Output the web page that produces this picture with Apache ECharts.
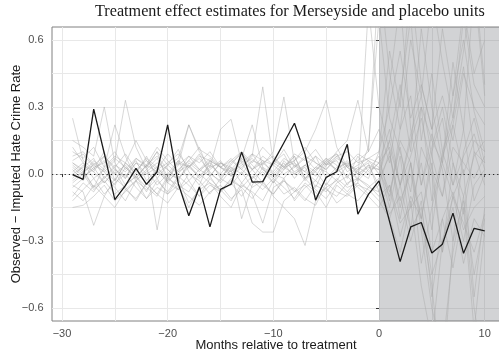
<!DOCTYPE html>
<html>
<head>
<meta charset="utf-8">
<script src="https://cdn.jsdelivr.net/npm/echarts@6/dist/echarts.min.js"></script>
<style>html,body{margin:0;padding:0;background:#fff;}#chart{width:499px;height:351px;}</style>
</head>
<body>
<div id="chart"></div>
<script>
// ---- data ----
const months = [-29,-28,-27,-26,-25,-24,-23,-22,-21,-20,-19,-18,-17,-16,-15,-14,-13,-12,-11,-10,-9,-8,-7,-6,-5,-4,-3,-2,-1,0,1,2,3,4,5,6,7,8,9,10];

const merseyside = [-0.003,-0.024,0.29,0.093,-0.115,-0.052,0.025,-0.046,0.01,0.22,-0.042,-0.187,-0.058,-0.237,-0.069,-0.046,0.098,-0.036,-0.034,0.053,0.14,0.227,0.088,-0.117,-0.015,0.01,0.133,-0.18,-0.091,-0.031,-0.213,-0.392,-0.237,-0.217,-0.354,-0.314,-0.175,-0.355,-0.243,-0.255];

const placebo01 = [0.25,0.06,0.02,0.10,-0.03,0.05,0.00,0.08,-0.02,0.04,0.11,0.01,-0.05,0.06,0.03,-0.01,0.07,0.02,-0.04,0.05,0.09,0.00,0.03,-0.06,0.04,0.06,-0.02,0.08,0.01,0.05,0.12,-0.05,0.18,0.35,0.08,-0.10,0.22,0.48,0.10,0.05];
const placebo02 = [0.15,0.12,0.08,0.30,0.05,-0.02,0.07,0.03,0.10,-0.04,0.02,0.06,0.12,0.00,-0.03,0.05,0.09,0.04,-0.01,0.06,0.03,0.08,-0.02,0.01,0.07,0.04,-0.05,0.02,0.05,-0.08,0.40,0.78,0.20,-0.05,0.12,0.30,0.05,-0.10,0.08,0.15];
const placebo03 = [-0.15,-0.14,-0.10,-0.05,-0.12,-0.08,-0.03,-0.11,-0.06,-0.09,-0.02,-0.13,-0.07,-0.04,-0.10,-0.15,-0.05,-0.08,-0.12,-0.03,-0.09,-0.06,-0.11,-0.14,-0.04,-0.08,-0.10,-0.05,-0.07,-0.12,-0.20,-0.05,-0.25,-0.15,-0.45,-0.30,-0.10,-0.22,-0.35,-0.18];
const placebo04 = [0.05,0.02,-0.06,0.03,0.22,0.08,-0.02,0.04,0.01,-0.03,0.06,0.03,0.09,-0.01,0.05,0.02,0.07,0.22,0.03,-0.04,0.06,0.01,0.04,0.08,-0.02,0.03,0.05,0.00,0.12,0.70,0.25,0.10,-0.08,0.30,0.15,0.05,0.35,0.60,0.28,0.10];
const placebo05 = [0.08,0.10,0.04,0.01,0.06,0.33,0.12,0.02,0.07,-0.01,0.05,0.03,0.08,0.06,-0.02,0.04,0.10,0.02,0.05,0.01,0.07,0.04,-0.03,0.02,0.06,0.09,0.03,0.00,0.04,0.02,-0.10,0.15,0.05,-0.20,0.10,0.25,-0.05,0.08,0.18,0.02];
const placebo06 = [-0.05,-0.08,-0.23,-0.10,-0.02,-0.06,-0.12,-0.04,-0.09,-0.01,-0.07,-0.03,-0.10,-0.05,-0.08,-0.02,-0.06,-0.11,-0.04,-0.09,-0.03,-0.07,-0.12,-0.05,-0.08,-0.02,-0.06,-0.04,-0.09,-0.05,-0.18,-0.10,-0.30,-0.12,-0.55,-0.20,-0.08,-0.25,-0.15,-0.10];
const placebo07 = [0.02,-0.03,0.05,0.01,-0.05,0.03,-0.02,0.04,-0.25,0.00,0.06,-0.03,0.02,0.05,-0.01,0.03,-0.04,0.02,0.06,0.00,-0.02,0.04,0.01,-0.03,0.05,0.02,-0.01,0.03,0.00,0.05,-0.08,0.12,-0.15,0.05,-0.25,0.10,-0.05,0.20,-0.12,0.00];
const placebo08 = [0.10,0.07,0.12,0.03,0.08,0.05,0.15,0.06,0.02,0.09,0.04,0.22,0.11,0.08,0.03,0.06,0.10,0.05,0.12,0.07,0.03,0.09,0.06,0.11,0.04,0.08,0.10,0.05,0.07,0.10,0.30,0.55,0.25,0.40,0.20,0.35,0.15,0.45,0.30,0.22];
const placebo09 = [-0.02,0.04,0.01,-0.04,0.02,-0.01,0.05,0.00,0.03,-0.03,0.01,0.04,-0.02,0.02,0.06,-0.01,0.03,0.08,0.39,0.05,0.02,0.08,-0.02,0.03,0.01,-0.03,0.04,0.02,0.06,0.00,0.15,-0.05,0.08,0.25,0.02,-0.10,0.12,0.05,-0.02,0.08];
const placebo10 = [0.04,0.00,0.06,0.02,-0.03,0.05,0.01,0.07,0.03,-0.02,0.04,0.08,0.02,-0.01,0.05,0.03,0.00,0.06,0.04,0.10,0.345,0.05,-0.02,0.03,0.07,0.01,0.04,-0.03,0.02,0.08,-0.12,0.20,0.35,-0.05,0.18,0.02,-0.30,0.10,0.25,0.05];
const placebo11 = [-0.06,-0.02,0.03,-0.04,0.01,-0.07,-0.03,0.02,-0.05,0.00,-0.02,0.04,-0.01,0.03,0.20,0.245,0.05,-0.02,0.01,-0.04,0.02,0.06,0.10,0.20,0.33,0.12,0.03,-0.02,0.04,-0.05,0.10,-0.20,0.05,-0.40,-0.15,0.05,-0.10,-0.30,-0.05,0.02];
const placebo12 = [0.01,0.05,-0.02,0.02,0.07,0.03,-0.01,0.04,0.08,0.02,-0.03,0.05,0.01,0.06,0.03,0.00,0.04,0.07,0.02,-0.02,0.03,0.05,0.01,0.08,0.04,0.10,0.15,0.33,0.10,0.90,0.45,0.20,0.60,0.35,0.80,0.50,0.25,0.70,0.40,0.30];
const placebo13 = [-0.08,-0.12,-0.05,-0.10,-0.15,-0.07,-0.11,-0.04,-0.09,-0.13,-0.06,-0.10,-0.14,-0.08,-0.05,-0.11,-0.07,-0.22,-0.26,-0.26,-0.12,-0.08,-0.05,-0.10,-0.06,-0.13,-0.09,-0.04,0.75,0.30,0.10,-0.15,0.05,-0.25,-0.60,-0.80,-0.35,-0.10,-0.45,-0.20];
const placebo14 = [-0.03,0.01,-0.06,-0.02,0.03,-0.05,-0.01,-0.08,0.02,-0.04,-0.07,0.00,-0.03,-0.09,-0.02,-0.05,0.01,-0.06,-0.03,-0.10,-0.15,-0.20,-0.32,-0.12,-0.06,-0.03,-0.08,-0.02,-0.05,-0.10,-0.05,-0.22,-0.15,-0.08,-0.35,-0.20,-0.42,-0.15,-0.70,-0.25];
const placebo15 = [0.03,-0.01,0.02,0.06,0.00,0.04,-0.03,0.01,0.05,0.02,-0.02,0.03,0.07,0.01,-0.04,0.02,-0.20,-0.05,0.03,0.00,0.05,-0.02,0.04,0.01,-0.05,0.02,0.06,0.00,0.03,0.02,0.15,0.40,0.10,0.65,0.30,0.05,0.50,0.20,0.85,0.35];
const placebo16 = [0.06,0.09,0.03,0.05,0.10,0.02,0.07,0.04,0.12,0.06,0.01,0.08,0.05,0.10,0.03,0.07,0.02,0.09,0.06,0.04,0.11,0.03,0.08,0.05,0.02,0.07,0.04,0.09,0.06,0.03,-0.15,0.08,-0.25,0.12,0.00,-0.35,0.05,-0.18,0.10,-0.05];
const placebo17 = [-0.10,-0.04,-0.08,-0.01,-0.06,-0.12,-0.03,-0.07,-0.02,-0.09,-0.05,-0.15,-0.06,-0.01,-0.08,-0.04,-0.10,-0.03,-0.07,-0.02,-0.06,-0.11,-0.04,-0.08,-0.15,-0.05,-0.09,-0.12,-0.06,-0.08,-0.20,-0.35,-0.12,-0.50,-0.75,-0.30,-0.15,-0.40,-0.20,-0.28];
const placebo18 = [0.00,0.03,0.07,-0.02,0.04,0.01,0.06,-0.03,0.02,0.05,0.09,0.03,-0.01,0.04,0.00,0.06,0.02,-0.02,0.05,0.08,0.03,0.00,0.04,-0.01,0.06,0.02,0.05,0.01,-0.02,0.10,0.55,0.30,0.85,0.40,0.20,0.65,0.35,0.75,0.45,0.60];
const placebo19 = [0.12,0.05,0.01,0.08,0.03,0.09,0.02,0.06,0.00,0.04,0.07,0.22,0.10,0.03,0.05,0.01,0.06,0.02,0.08,0.04,0.00,0.03,0.07,0.02,0.05,0.09,0.01,0.04,0.07,0.05,0.20,-0.05,0.15,0.30,-0.12,0.08,0.22,0.00,0.15,0.10];
const placebo20 = [-0.12,-0.07,-0.02,-0.09,-0.04,0.00,-0.06,-0.11,-0.03,-0.08,-0.01,-0.05,-0.10,-0.02,-0.07,-0.12,-0.04,-0.09,-0.22,-0.06,-0.03,-0.08,-0.02,-0.07,-0.11,-0.04,-0.01,-0.06,-0.10,-0.15,-0.05,-0.28,-0.10,-0.20,-0.50,-0.95,-0.30,-0.12,-0.60,-0.90];
const placebo21 = [0.05,0.01,0.04,0.08,0.02,-0.02,0.05,0.03,0.10,0.04,0.00,0.06,0.02,0.07,0.03,0.01,0.05,0.09,0.02,-0.01,0.04,0.06,0.12,0.05,0.02,0.08,0.03,0.06,0.10,0.20,0.05,0.35,0.70,0.15,0.45,0.10,0.25,0.55,0.90,0.40];
const placebo22 = [-0.04,0.00,-0.07,-0.03,-0.09,-0.05,-0.01,-0.06,-0.10,-0.02,-0.05,-0.08,0.00,-0.04,-0.07,-0.03,-0.06,-0.01,-0.05,-0.09,-0.02,-0.12,-0.06,-0.03,-0.07,-0.10,-0.04,-0.02,-0.06,-0.02,0.08,-0.12,0.00,-0.20,0.05,-0.35,-0.10,0.02,-0.55,-0.15];

const placeboSeries = [placebo01,placebo02,placebo03,placebo04,placebo05,placebo06,placebo07,placebo08,placebo09,placebo10,placebo11,placebo12,placebo13,placebo14,placebo15,placebo16,placebo17,placebo18,placebo19,placebo20,placebo21,placebo22];

const xTickLabels = [-30,-20,-10,0,10];
const xGridValues = [-30,-25,-20,-15,-10,-5,0,5,10];
const yTickLabels = [-0.6,-0.3,0,0.3,0.6];
const yGridValues = [-0.6,-0.45,-0.3,-0.15,0,0.15,0.3,0.45,0.6];
const treatmentStart = 0;

const X_MIN = -30.946, X_MAX = 11.45;
const Y_MIN = -0.658, Y_MAX = 0.658;

// ---- chart ----
const minus = s => s.replace('-', '\u2212');
const pairs = arr => arr.map((v, i) => [months[i], v]);

const chart = echarts.init(document.getElementById('chart'), null, {renderer: 'canvas'});

const series = placeboSeries.map((arr, k) => {
  const s = {
    type: 'line', data: pairs(arr), symbol: 'none', silent: true, z: 2,
    lineStyle: {color: 'rgba(168,168,168,0.45)', width: 1}
  };
  if (k === 0) {
    s.markArea = {
      silent: true,
      itemStyle: {color: 'rgba(105,108,116,0.30)'},
      data: [[{xAxis: treatmentStart}, {xAxis: X_MAX}]]
    };
  }
  return s;
});

series.push({
  type: 'line', name: 'Merseyside', data: pairs(merseyside), symbol: 'none', z: 5,
  lineStyle: {color: '#1a1a1a', width: 1.3},
  markLine: {
    silent: true, symbol: 'none', label: {show: false},
    lineStyle: {color: '#222', type: [1.2, 3], width: 1.1},
    data: [{yAxis: 0}]
  }
});

const axisLabelStyle = {color: '#4d4d4d', fontSize: 11, fontFamily: 'Liberation Sans, Arial, sans-serif'};

chart.setOption({
  animation: false,
  backgroundColor: '#fff',
  title: {
    text: 'Treatment effect estimates for Merseyside and placebo units',
    left: 95, top: 4, padding: 0,
    textStyle: {fontFamily: 'Liberation Serif, Times New Roman, serif', fontWeight: 'normal', fontSize: 16.2, color: '#1a1a1a'}
  },
  grid: {left: 52, top: 27, right: -1, bottom: 30, containLabel: false, outerBoundsMode: 'none',
         show: true, borderColor: '#808080', borderWidth: 1, backgroundColor: 'transparent'},
  xAxis: [
    {
      type: 'value', min: X_MIN, max: X_MAX, position: 'bottom',
      name: 'Months relative to treatment', nameLocation: 'middle', nameGap: 18, nameMoveOverlap: false,
      nameTextStyle: {fontSize: 13, color: '#1a1a1a', fontFamily: 'Liberation Sans, Arial, sans-serif'},
      axisLine: {show: false},
      axisTick: {show: true, customValues: xTickLabels, length: 3, lineStyle: {color: '#333'}},
      axisLabel: Object.assign({customValues: xTickLabels, margin: 7, formatter: v => minus(String(v))}, axisLabelStyle),
      splitLine: {show: false}
    },
    {
      type: 'value', min: X_MIN, max: X_MAX, position: 'bottom',
      axisLine: {show: false},
      axisTick: {show: false, customValues: xGridValues},
      axisLabel: {show: false},
      splitLine: {show: true, lineStyle: {color: '#e8e8e8', width: 1}}
    }
  ],
  yAxis: [
    {
      type: 'value', min: Y_MIN, max: Y_MAX, position: 'left',
      name: 'Observed \u2212 Imputed Hate Crime Rate', nameLocation: 'middle', nameGap: 29.5, nameMoveOverlap: false,
      nameTextStyle: {fontSize: 13, color: '#1a1a1a', fontFamily: 'Liberation Sans, Arial, sans-serif'},
      axisLine: {show: false},
      axisTick: {show: true, customValues: yTickLabels, length: 3, lineStyle: {color: '#333'}},
      axisLabel: Object.assign({customValues: yTickLabels, margin: 8.5, formatter: v => minus(v.toFixed(1))}, axisLabelStyle),
      splitLine: {show: false}
    },
    {
      type: 'value', min: Y_MIN, max: Y_MAX, position: 'left',
      axisLine: {show: false},
      axisTick: {show: false, customValues: yGridValues},
      axisLabel: {show: false},
      splitLine: {show: true, lineStyle: {color: '#e8e8e8', width: 1}}
    }
  ],
  series: series
});
</script>
</body>
</html>
